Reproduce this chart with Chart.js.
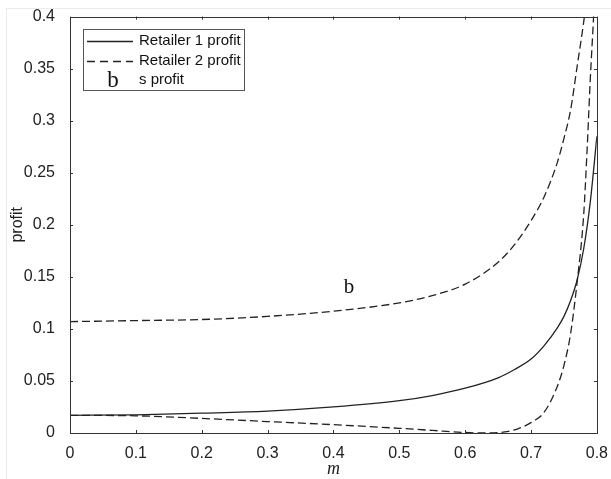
<!DOCTYPE html>
<html>
<head>
<meta charset="utf-8">
<script src="https://cdn.jsdelivr.net/npm/chart.js@4.4.1/dist/chart.umd.min.js"></script>
<style>
  html, body { margin: 0; padding: 0; background: #fff; }
  #wrap { position: relative; width: 611px; height: 479px; }
  #frame { position: absolute; left: 6px; top: 8px; right: 0; bottom: 0; border-left: 1px solid #ececec; border-top: 1px solid #ececec; pointer-events: none; }
</style>
</head>
<body>
<div id="wrap">
  <canvas id="c" width="611" height="479"></canvas>
  <div id="frame"></div>
</div>
<script>
// Retailer 1 profit (solid)
const mRetailer1 = [0, 0.1, 0.2, 0.3, 0.4, 0.5, 0.55, 0.6, 0.65, 0.675, 0.7, 0.72, 0.74, 0.75, 0.76, 0.77, 0.78, 0.79, 0.8];
const profitRetailer1 = [0.017, 0.0175, 0.019, 0.021, 0.025, 0.031, 0.036, 0.043, 0.053, 0.061, 0.071, 0.084, 0.101, 0.112, 0.127, 0.147, 0.177, 0.222, 0.285];

// Retailer 2 profit (dashed, upper)
const mRetailer2 = [0, 0.1, 0.2, 0.3, 0.4, 0.5, 0.55, 0.6, 0.65, 0.675, 0.7, 0.72, 0.74, 0.75, 0.76, 0.77, 0.78, 0.785];
const profitRetailer2 = [0.107, 0.108, 0.109, 0.112, 0.117, 0.125, 0.132, 0.143, 0.164, 0.181, 0.204, 0.227, 0.26, 0.283, 0.31, 0.352, 0.395, 0.42];

// s profit (dashed, lower)
const mSupplier = [0, 0.1, 0.2, 0.3, 0.4, 0.5, 0.55, 0.6, 0.63, 0.66, 0.68, 0.7, 0.72, 0.74, 0.75, 0.76, 0.77, 0.78, 0.785, 0.79, 0.795, 0.8];
const profitSupplier = [0.017, 0.0165, 0.014, 0.011, 0.008, 0.0045, 0.0025, 0.0005, 0, 0.001, 0.004, 0.01, 0.02, 0.045, 0.065, 0.095, 0.145, 0.21, 0.27, 0.34, 0.4, 0.47];

const seriesLabels = ['Retailer 1 profit', 'Retailer 2 profit', 's profit'];
const xTicks = [0, 0.1, 0.2, 0.3, 0.4, 0.5, 0.6, 0.7, 0.8];
const yTicks = [0, 0.05, 0.1, 0.15, 0.2, 0.25, 0.3, 0.35, 0.4];
const noteText = 'b';
const notePoint = { m: 0.4235, profit: 0.14 };

const ink = '#222';
const sans = '"Liberation Sans", Arial, sans-serif';
const serif = '"Liberation Serif", "DejaVu Serif", serif';
const pts = (xs, ys) => xs.map((x, i) => ({ x, y: ys[i] }));

// Box, inward tick marks, legend panel and the in-plot note
const matlabBox = {
  id: 'matlabBox',
  afterDatasetsDraw(chart) {
    const { ctx, chartArea: a, scales: { x, y } } = chart;
    ctx.save();
    ctx.strokeStyle = '#333';
    ctx.lineWidth = 1;
    ctx.strokeRect(Math.round(a.left) + 0.5, Math.round(a.top) + 0.5, Math.round(a.right - a.left), Math.round(a.bottom - a.top));
    const tl = 3;
    ctx.beginPath();
    xTicks.forEach(v => {
      const px = Math.round(x.getPixelForValue(v)) + 0.5;
      ctx.moveTo(px, a.bottom); ctx.lineTo(px, a.bottom - tl);
      ctx.moveTo(px, a.top); ctx.lineTo(px, a.top + tl);
    });
    yTicks.forEach(v => {
      const py = Math.round(y.getPixelForValue(v)) + 0.5;
      ctx.moveTo(a.left, py); ctx.lineTo(a.left + tl, py);
      ctx.moveTo(a.right, py); ctx.lineTo(a.right - tl, py);
    });
    ctx.stroke();

    // note inside the plot
    ctx.fillStyle = '#111';
    ctx.font = '21px ' + serif;
    ctx.textAlign = 'center';
    ctx.textBaseline = 'middle';
    ctx.fillText(noteText, x.getPixelForValue(notePoint.m), y.getPixelForValue(notePoint.profit));

    // legend panel
    const bx = 83.5, by = 29.5, bw = 161, bh = 61;
    ctx.fillStyle = '#fff';
    ctx.fillRect(bx, by, bw, bh);
    ctx.strokeStyle = '#555';
    ctx.strokeRect(bx, by, bw, bh);
    const rows = [41, 61, 80];
    chart.data.datasets.forEach((ds, i) => {
      const ry = rows[i];
      if (ds.legendGlyph) {
        ctx.fillStyle = '#111';
        ctx.font = '23px ' + serif;
        ctx.textAlign = 'center';
        ctx.textBaseline = 'middle';
        ctx.fillText(ds.legendGlyph, 113, ry + 1);
      } else {
        ctx.strokeStyle = ds.borderColor;
        ctx.lineWidth = 1.3;
        ctx.setLineDash(ds.borderDash && ds.borderDash.length ? [8, 5] : []);
        ctx.beginPath();
        ctx.moveTo(87, ry + 0.5); ctx.lineTo(133, ry + 0.5);
        ctx.stroke();
        ctx.setLineDash([]);
      }
      ctx.fillStyle = '#111';
      ctx.font = '15px ' + sans;
      ctx.textAlign = 'left';
      ctx.textBaseline = 'middle';
      ctx.fillText(ds.label, 139, ry);
    });
    ctx.restore();
  }
};

const lineStyle = { borderColor: ink, borderWidth: 1.3, pointRadius: 0, cubicInterpolationMode: 'monotone', fill: false, showLine: true };

new Chart(document.getElementById('c'), {
  type: 'scatter',
  data: {
    datasets: [
      { label: seriesLabels[0], data: pts(mRetailer1, profitRetailer1), ...lineStyle, borderDash: [] },
      { label: seriesLabels[1], data: pts(mRetailer2, profitRetailer2), ...lineStyle, borderDash: [8, 4] },
      { label: seriesLabels[2], data: pts(mSupplier, profitSupplier), ...lineStyle, borderDash: [8, 4], legendGlyph: 'b' }
    ]
  },
  options: {
    responsive: false,
    animation: false,
    layout: { padding: { top: 15, right: 12, left: 0, bottom: 0 } },
    plugins: { legend: { display: false }, tooltip: { enabled: false } },
    scales: {
      x: {
        type: 'linear', min: 0, max: 0.8,
        afterFit: s => { s.height = 46; },
        afterBuildTicks: s => { s.ticks = xTicks.map(v => ({ value: v })); },
        grid: { display: false },
        border: { display: false },
        ticks: { color: ink, padding: 3, maxRotation: 0, font: { size: 16, family: sans }, callback: v => String(v) },
        title: { display: true, text: 'm', color: ink, padding: { top: 0, bottom: -1 }, font: { size: 18, style: 'italic', family: serif } }
      },
      y: {
        type: 'linear', min: 0, max: 0.4,
        afterFit: s => { s.width = 70; },
        afterBuildTicks: s => { s.ticks = yTicks.map(v => ({ value: v })); },
        grid: { display: false },
        border: { display: false },
        ticks: { color: ink, padding: 7, font: { size: 16, family: sans }, callback: v => String(v) },
        title: { display: true, text: 'profit', color: ink, padding: { top: 8, bottom: 0 }, font: { size: 16, family: sans } }
      }
    }
  },
  plugins: [matlabBox]
});
</script>
</body>
</html>
